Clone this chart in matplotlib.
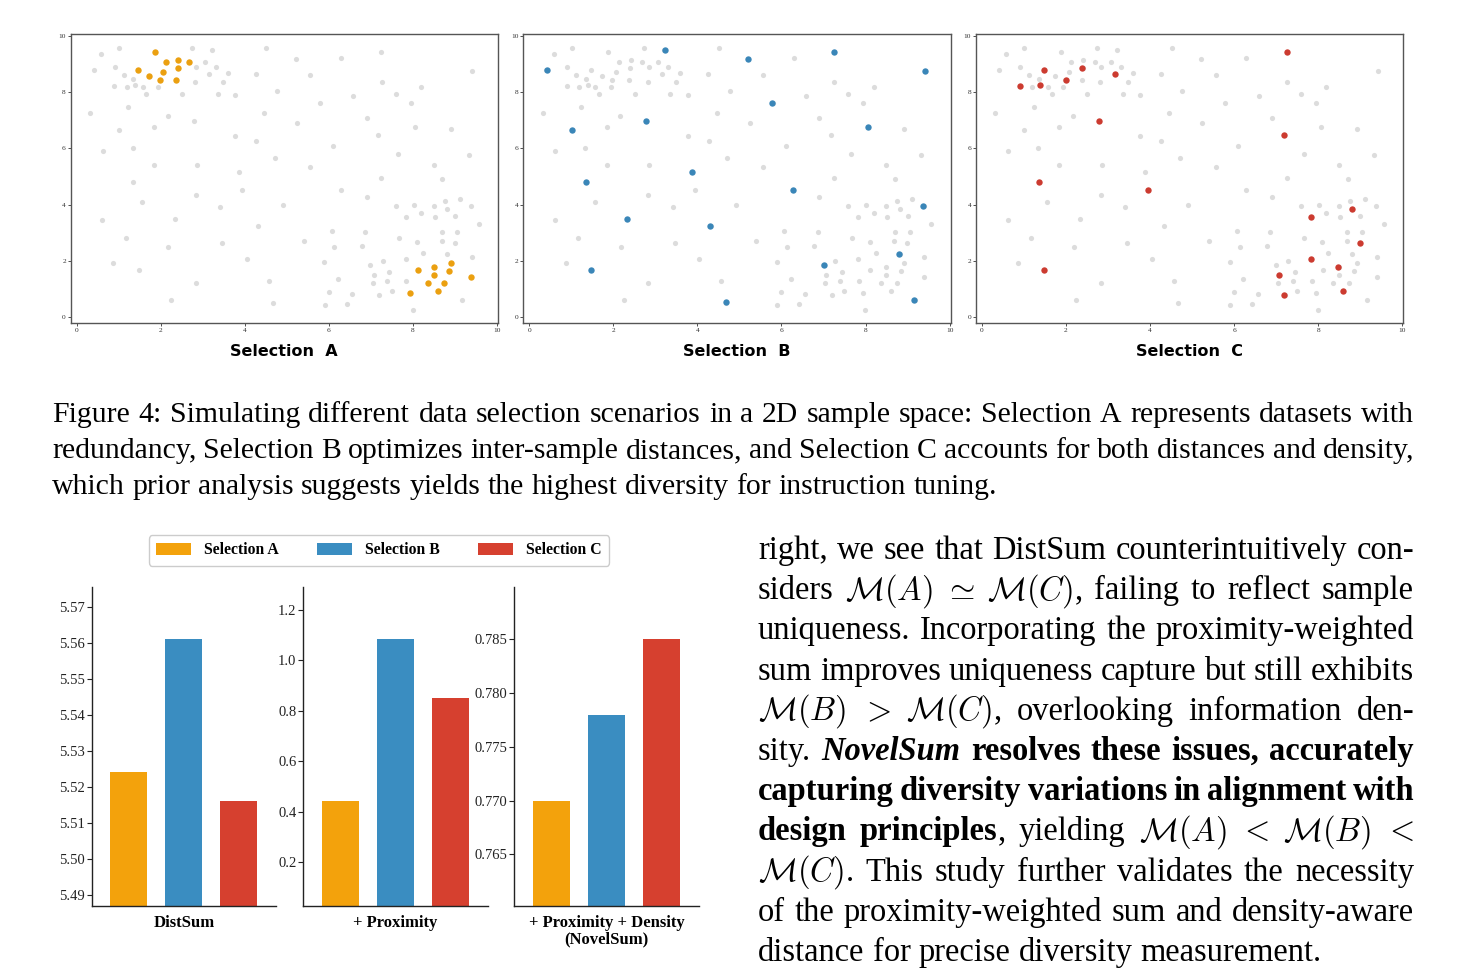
import re
import matplotlib
matplotlib.use("Agg")
import matplotlib.pyplot as plt
from matplotlib.patches import Patch

plt.rcParams['mathtext.fontset'] = 'cm'
plt.rcParams['font.family'] = ['Liberation Serif', 'DejaVu Serif']

# ---------------- data ----------------
gray_x = [0.58, 1.01, 0.41, 0.91, 1.12, 1.35, 0.90, 1.19, 1.39, 1.57, 1.66, 1.94, 1.23, 0.32,
          2.74, 3.21, 3.06, 2.84, 3.31, 3.16, 3.59, 2.82, 3.48, 2.51, 3.36, 3.77, 2.17, 2.79,
          1.84, 1.01, 0.62, 1.33, 3.77, 4.27, 1.84, 2.86, 3.87, 1.35, 3.94, 2.83, 1.56, 3.41,
          0.61, 2.33, 4.32, 1.17, 2.18, 3.46, 0.87, 1.48, 4.05, 2.83, 2.25, 4.57, 4.67, 4.51,
          4.26, 4.77, 4.46, 4.71, 4.91, 5.21, 5.56, 5.24, 5.79, 5.56, 5.40, 6.29, 6.58, 6.90,
          7.18, 6.10, 6.28, 6.90, 7.25, 7.26, 7.59, 7.95, 8.19, 8.06, 8.91, 9.41, 9.33, 7.65,
          7.25, 8.49, 8.70, 7.59, 8.02, 8.49, 8.75, 9.11, 9.38, 7.83, 8.19, 8.52, 8.81, 9.00,
          9.56, 6.07, 6.13, 6.86, 6.78, 7.67, 8.69, 9.05, 8.10, 8.68, 8.99, 8.24, 8.81, 9.40,
          5.89, 6.99, 7.28, 7.44, 7.07, 7.83, 6.22, 7.04, 7.39, 7.84, 6.00, 6.56, 7.20, 7.49,
          5.90, 6.42, 7.99, 9.17]
gray_y = [9.35, 9.59, 8.79, 8.88, 8.62, 8.47, 8.22, 8.18, 8.26, 8.20, 7.94, 8.17, 7.47, 7.25,
          9.56, 9.50, 9.09, 8.88, 8.91, 8.64, 8.67, 8.38, 8.36, 7.94, 7.94, 7.91, 7.16, 6.96,
          6.78, 6.66, 5.92, 6.01, 6.43, 6.27, 5.42, 5.42, 5.16, 4.80, 4.51, 4.36, 4.09, 3.92,
          3.46, 3.48, 3.24, 2.82, 2.49, 2.64, 1.93, 1.66, 2.05, 1.22, 0.62, 1.28, 0.51, 9.57,
          8.65, 8.06, 7.25, 5.67, 4.00, 9.17, 8.63, 6.90, 7.63, 5.33, 2.70, 9.20, 7.87, 7.08,
          6.47, 6.07, 4.53, 4.26, 9.44, 8.36, 7.94, 7.60, 8.19, 6.75, 6.69, 8.75, 5.75, 5.81,
          4.95, 5.40, 4.91, 3.95, 4.00, 3.94, 4.12, 4.21, 3.96, 3.56, 3.70, 3.55, 3.83, 3.61,
          3.31, 3.08, 2.51, 3.04, 2.53, 2.82, 3.01, 3.03, 2.67, 2.70, 2.63, 2.27, 2.25, 2.15,
          1.96, 1.85, 2.01, 1.61, 1.51, 2.05, 1.37, 1.21, 1.27, 1.28, 0.90, 0.83, 0.78, 0.94,
          0.43, 0.47, 0.25, 0.62]

sel_a_x = [1.87, 2.13, 2.41, 2.68, 1.47, 1.73, 2.06, 2.40, 1.98, 2.37,
           7.94, 8.11, 8.49, 8.49, 8.36, 8.60, 8.74, 8.85, 8.91, 9.39]
sel_a_y = [9.42, 9.07, 9.15, 9.09, 8.79, 8.56, 8.73, 8.85, 8.44, 8.44,
           0.85, 1.68, 1.78, 1.51, 1.20, 0.92, 1.22, 1.63, 1.94, 1.41]
sel_b_x = [0.42, 3.22, 5.21, 7.24, 9.41, 5.78, 1.01, 2.78, 8.05, 1.34,
           3.87, 6.27, 9.37, 2.32, 4.31, 8.80, 7.00, 1.47, 4.68, 9.15]
sel_b_y = [8.79, 9.50, 9.17, 9.43, 8.75, 7.63, 6.65, 6.96, 6.75, 4.80,
           5.17, 4.53, 3.96, 3.48, 3.24, 2.26, 1.85, 1.66, 0.52, 0.62]
sel_c_x = [0.90, 1.47, 1.39, 1.99, 2.39, 3.16, 2.78, 7.26, 7.18, 1.35,
           3.94, 1.47, 7.82, 8.81, 8.99, 7.82, 8.48, 7.07, 8.60, 7.18]
sel_c_y = [8.22, 8.79, 8.26, 8.44, 8.86, 8.64, 6.96, 9.43, 6.47, 4.80,
           4.51, 1.66, 3.57, 3.85, 2.63, 2.05, 1.78, 1.51, 0.92, 0.78]

selection_names = ['Selection A', 'Selection B', 'Selection C']
scatter_titles = ['Selection  A', 'Selection  B', 'Selection  C']
metric_names = ['DistSum', '+ Proximity', '+ Proximity + Density\n(NovelSum)']
distsum_vals = [5.524, 5.561, 5.516]
proximity_vals = [0.443, 1.085, 0.852]
novelsum_vals = [0.770, 0.778, 0.785]
distsum_ticks = [5.49, 5.50, 5.51, 5.52, 5.53, 5.54, 5.55, 5.56, 5.57]
proximity_ticks = [0.2, 0.4, 0.6, 0.8, 1.0, 1.2]
novelsum_ticks = [0.765, 0.770, 0.775, 0.780, 0.785]

caption_lines = [
    "Figure 4: Simulating different data selection scenarios in a 2D sample space: Selection A represents datasets with",
    "redundancy, Selection B optimizes inter-sample distances, and Selection C accounts for both distances and density,",
    "which prior analysis suggests yields the highest diversity for instruction tuning.",
]
body_lines = [
    r"right, we see that DistSum counterintuitively con-",
    r"siders $\mathcal{M}(A)$ $\simeq$ $\mathcal{M}(C)$, failing to reflect sample",
    r"uniqueness. Incorporating the proximity-weighted",
    r"sum improves uniqueness capture but still exhibits",
    r"$\mathcal{M}(B)$ $>$ $\mathcal{M}(C)$, overlooking information den-",
    r"sity. ~NovelSum~ *resolves* *these* *issues,* *accurately*",
    r"*capturing* *diversity* *variations* *in* *alignment* *with*",
    r"*design* *principles*, yielding $\mathcal{M}(A)$ $<$ $\mathcal{M}(B)$ $<$",
    r"$\mathcal{M}(C)$. This study further validates the necessity",
    r"of the proximity-weighted sum and density-aware",
    r"distance for precise diversity measurement.",
]

# ---------------- style ----------------
COL_BAR = ['#F3A20C', '#3A8DC1', '#D6402F']
COL_PT = ['#EBA010', '#3A86B8', '#CC3B30']
GRAY = '#DCDCDC'

W, H = 1460, 969
fig = plt.figure(figsize=(W / 100, H / 100), dpi=100)


def ax_px(l, t, r, b):
    return fig.add_axes([l / W, 1 - b / H, (r - l) / W, (b - t) / H])


# ---------------- scatter panels ----------------
bg_x = gray_x + sel_a_x
bg_y = gray_y + sel_a_y
sels = [(sel_a_x, sel_a_y), (sel_b_x, sel_b_y), (sel_c_x, sel_c_y)]
lefts = [70.7, 523.3, 976.0]
for i, (l, (sx, sy)) in enumerate(zip(lefts, sels)):
    ax = ax_px(l, 34.3, l + 427.2, 323.3)
    ax.scatter(bg_x, bg_y, s=14, color=GRAY, linewidths=0, zorder=2)
    ax.scatter(sx, sy, s=21, color=COL_PT[i], linewidths=0, zorder=3)
    ax.set_xlim(-0.14, 10.02)
    ax.set_ylim(-0.22, 10.06)
    ax.set_xticks([0, 2, 4, 6, 8, 10])
    ax.set_yticks([0, 2, 4, 6, 8, 10])
    for sp in ax.spines.values():
        sp.set_color('#555555')
        sp.set_linewidth(1.0)
    ax.tick_params(length=2, width=0.6, colors='#333333', labelsize=5.3, pad=1.5)
    ax.set_xlabel(scatter_titles[i], family='DejaVu Sans', fontweight='bold', fontsize=11.5)
    ax.xaxis.set_label_coords(0.5, -0.072)

# ---------------- bar panels ----------------
bar_data = [distsum_vals, proximity_vals, novelsum_vals]
bar_ticks = [distsum_ticks, proximity_ticks, novelsum_ticks]
bar_fmt = ['{:.2f}', '{:.1f}', '{:.3f}']
bar_ylim = [(5.4869, 5.5755), (0.027, 1.292), (0.7602, 0.7899)]
bar_left = [91.7, 303.3, 514.3]
for k in range(3):
    l = bar_left[k]
    ax = ax_px(l, 586.7, l + 184.6, 906.0)
    ax.bar(range(3), bar_data[k], width=0.667, color=COL_BAR, zorder=2)
    ax.set_xlim(-0.67, 2.68)
    ax.set_ylim(*bar_ylim[k])
    ax.set_yticks(bar_ticks[k])
    ax.set_yticklabels([bar_fmt[k].format(v) for v in bar_ticks[k]])
    ax.set_xticks([])
    ax.spines['top'].set_visible(False)
    ax.spines['right'].set_visible(False)
    for s in ['left', 'bottom']:
        ax.spines[s].set_color('#222222')
        ax.spines[s].set_linewidth(1.0)
    ax.tick_params(axis='y', length=3.5, width=0.8, labelsize=10.5, pad=1.5, colors='#222222')
    ax.set_xlabel(metric_names[k], fontweight='bold', fontsize=12, linespacing=1.0)
    ax.xaxis.set_label_coords(0.5, -0.028)

handles = [Patch(facecolor=c, edgecolor='none') for c in COL_BAR]
fig.legend(handles, selection_names, loc='center', bbox_to_anchor=(379 / W, 1 - 550.5 / H),
           ncol=3, frameon=True, fancybox=True, edgecolor='#cccccc', framealpha=1,
           prop=dict(family='Liberation Serif', weight='bold', size=11.3),
           handlelength=2.2, handleheight=0.75, handletextpad=0.85, columnspacing=2.45,
           borderpad=0.45)

# ---------------- text blocks ----------------
R = fig.canvas.get_renderer()
STY = {'r': {}, 'b': {'fontweight': 'bold'}, 'i': {'fontweight': 'bold', 'fontstyle': 'italic'}}


def pieces(word):
    out = []
    for m in re.finditer(r'\*([^*]+)\*|~([^~]+)~|([^*~]+)', word):
        if m.group(1):
            out.append((m.group(1), 'b'))
        elif m.group(2):
            out.append((m.group(2), 'i'))
        else:
            out.append((m.group(3), 'r'))
    return out


def width(s, st, size):
    t = fig.text(0, 0, s, fontsize=size, **STY[st])
    w = t.get_window_extent(R).width
    t.remove()
    return w


def natural(line, size):
    words = line.split(' ')
    sp = width('a a', 'r', size) - width('aa', 'r', size)
    return sum(sum(width(s, st, size) for s, st in pieces(w)) for w in words) + sp * (len(words) - 1)


def draw_par(lines, x0, x1, y0, dy, size):
    space = width('a a', 'r', size) - width('aa', 'r', size)
    for k, line in enumerate(lines):
        words = line.split(' ')
        wp = [[(s, st, width(s, st, size)) for s, st in pieces(w)] for w in words]
        ww = [sum(p[2] for p in w) for w in wp]
        if k == len(lines) - 1:
            gap = space
        else:
            gap = (x1 - x0 - sum(ww)) / (len(words) - 1)
        x = x0
        yb = y0 + dy * k
        for w, wwid in zip(wp, ww):
            xx = x
            for s, st, pw in w:
                fig.text(xx / W, 1 - yb / H, s, fontsize=size, ha='left', va='baseline', **STY[st])
                xx += pw
            x += wwid + gap


cap_size = 20 * 945 / natural(caption_lines[-1], 20)
draw_par(caption_lines, 52, 1414, 422, 36, cap_size)

body_size = 20 * 566 / natural(body_lines[-1], 20)
draw_par(body_lines, 758, 1414, 559, 40.2, body_size)

fig.savefig('out.png', dpi=100)
